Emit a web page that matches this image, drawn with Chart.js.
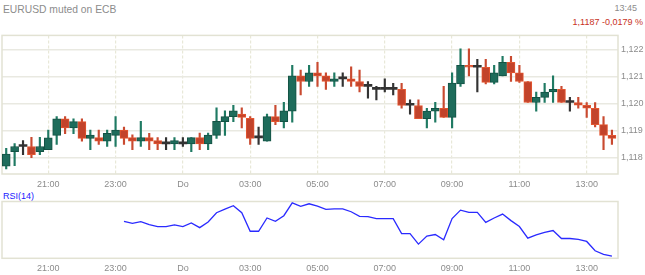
<!DOCTYPE html>
<html>
<head>
<meta charset="utf-8">
<script src="https://cdn.jsdelivr.net/npm/chart.js@4.4.1/dist/chart.umd.min.js"></script>
<style>
  html, body { margin:0; padding:0; background:#fff; }
  #wrap { position:relative; width:645px; height:275px; overflow:hidden; font-family:"Liberation Sans", Arial, sans-serif; }
  .t { position:absolute; white-space:nowrap; line-height:12px; }
  canvas { position:absolute; left:0; }
</style>
</head>
<body>
<div id="wrap">
  <div class="t" style="left:3px; top:4px; font-size:10.3px; color:#8c8c8c;">EURUSD muted on ECB</div>
  <div class="t" style="right:8px; top:2px; font-size:9px; color:#8c8c8c;">13:45</div>
  <div class="t" style="right:2px; top:16px; font-size:9px; color:#c8321e;">1,1187 -0,0179 %</div>
  <div class="t" style="left:3px; top:189.5px; font-size:9px; color:#1a1aff;">RSI(14)</div>
  <canvas id="main" width="645" height="165" style="top:27px;"></canvas>
  <canvas id="rsi" width="645" height="76" style="top:199px;"></canvas>
</div>
<script>
// ---- data (15-minute candles, index 0 .. 72) ----
const opens = [1.11767,1.11821,1.11840,1.11840,1.11821,1.11828,1.11881,1.11943,1.11909,1.11932,
1.11870,1.11873,1.11860,1.11881,1.11901,1.11873,1.11860,1.11873,1.11862,1.11850,
1.11850,1.11850,1.11850,1.11873,1.11850,1.11881,1.11932,1.11951,1.11960,1.11944,
1.11872,1.11860,1.11951,1.11932,1.11971,1.12102,1.12081,1.12113,1.12102,1.12081,
1.12091,1.12091,1.12081,1.12063,1.12052,1.12052,1.12052,1.12052,1.11993,1.11992,
1.11943,1.11971,1.11982,1.11948,1.12072,1.12141,1.12134,1.12134,1.12078,1.12102,
1.12152,1.12113,1.12081,1.12003,1.12022,1.12042,1.12052,1.12003,1.12003,1.11993,
1.11982,1.11921,1.11881];
const highs = [1.11833,1.11851,1.11862,1.11874,1.11874,1.11901,1.11951,1.11951,1.11943,1.11943,
1.11901,1.11901,1.11901,1.11951,1.11912,1.11883,1.11933,1.11889,1.11873,1.11873,
1.11873,1.11873,1.11873,1.11890,1.11890,1.11983,1.11972,1.11993,1.11983,1.11951,
1.11912,1.11960,1.11993,1.12004,1.12141,1.12123,1.12141,1.12152,1.12113,1.12113,
1.12113,1.12135,1.12123,1.12081,1.12063,1.12091,1.12074,1.12074,1.12013,1.12013,
1.11982,1.12004,1.12063,1.12113,1.12202,1.12202,1.12163,1.12163,1.12141,1.12174,
1.12174,1.12141,1.12081,1.12042,1.12074,1.12102,1.12063,1.12022,1.12022,1.12003,
1.12003,1.11951,1.11901];
const lows = [1.11757,1.11769,1.11810,1.11799,1.11810,1.11828,1.11848,1.11888,1.11888,1.11860,
1.11828,1.11848,1.11840,1.11840,1.11848,1.11828,1.11840,1.11828,1.11828,1.11828,
1.11828,1.11840,1.11821,1.11828,1.11828,1.11870,1.11881,1.11932,1.11909,1.11848,
1.11848,1.11860,1.11921,1.11909,1.11930,1.12031,1.12063,1.12063,1.12052,1.12063,
1.12063,1.12063,1.12042,1.12019,1.12013,1.12042,1.12031,1.11982,1.11960,1.11943,
1.11909,1.11930,1.11948,1.11909,1.12063,1.12102,1.12042,1.12072,1.12072,1.12102,
1.12081,1.12078,1.12003,1.11971,1.12003,1.12003,1.12003,1.11971,1.11982,1.11948,
1.11913,1.11828,1.11848];
const closes = [1.11812,1.11840,1.11840,1.11810,1.11840,1.11872,1.11943,1.11909,1.11932,1.11870,
1.11882,1.11860,1.11889,1.11901,1.11870,1.11860,1.11873,1.11860,1.11850,1.11850,
1.11862,1.11850,1.11873,1.11850,1.11882,1.11933,1.11951,1.11972,1.11948,1.11870,
1.11872,1.11951,1.11932,1.11972,1.12102,1.12081,1.12113,1.12102,1.12081,1.12091,
1.12091,1.12081,1.12063,1.12063,1.12052,1.12052,1.12052,1.11992,1.11993,1.11943,
1.11971,1.11982,1.11948,1.12075,1.12141,1.12134,1.12134,1.12078,1.12113,1.12152,
1.12113,1.12081,1.12003,1.12022,1.12042,1.12052,1.12003,1.12003,1.11993,1.11982,
1.11921,1.11881,1.11870];
// RSI(14) starts at candle 14
const rsiStart = 14;
const rsiValues = [59.1,57.0,58.7,55.6,53.5,53.5,55.2,53.5,57.3,52.4,
58.4,68.1,72.0,75.5,68.1,48.6,48.6,62.6,59.1,65.0,
78.6,74.8,77.6,75.1,71.6,72.3,72.3,69.2,64.3,64.0,
61.9,61.9,61.9,46.1,46.1,35.0,43.4,45.1,39.5,61.9,
70.9,68.5,68.5,58.0,62.6,66.7,59.8,53.5,41.3,44.8,
47.5,49.3,40.9,40.9,39.9,37.8,28.0,24.2,22.4];
// x-axis ticks (candle index -> label)
const tickIdx = [5,13,21,29,37,45,53,61,69];
const tickLabels = ["21:00","23:00","Do","03:00","05:00","07:00","09:00","11:00","13:00"];
const yTicks = [1.118,1.119,1.120,1.121,1.122];

// ---- styles ----
const GREEN = '#1e6c5b', GREEN_B = '#145244', GREEN_W = '#1f7a63';
const RED = '#c2432b', RED_B = '#e4552f', RED_W = '#c94a30';
const DOJI = '#333333';
const labelFont = { family: '"Liberation Sans", Arial, sans-serif', size: 9 };
const labelColor = '#8c8c8c';
const frameColor = '#e2e2d3';

const kind = opens.map((o,i) => closes[i] > o ? 1 : (closes[i] < o ? -1 : 0));
const bodyPts = opens.map((o,i) => ({ x: i, y: [o, closes[i]] }));
const wickPts = opens.map((o,i) => ({ x: i, y: [lows[i], highs[i]] }));

const framePlugin = {
  id: 'frame',
  beforeDatasetsDraw(chart) {
    const a = chart.chartArea, c = chart.ctx;
    c.save();
    c.strokeStyle = frameColor;
    c.lineWidth = 1.5;
    c.strokeRect(a.left, a.top, a.right - a.left, a.bottom - a.top);
    c.restore();
  }
};

function xScale(showGrid, h) {
  return {
    type: 'linear', min: -0.5, max: 72.72, offset: false,
    afterBuildTicks: s => { s.ticks = tickIdx.map(v => ({ value: v })); },
    afterFit: s => { s.height = h; },
    ticks: {
      autoSkip: false, maxRotation: 0, padding: 5, font: labelFont, color: labelColor,
      callback: v => { const k = tickIdx.indexOf(v); return k >= 0 ? tickLabels[k] : ''; }
    },
    grid: { display: showGrid, offset: false, drawTicks: false, color: '#e8e8d8', lineWidth: 1.2 },
    border: { display: false, dash: [3, 2] }
  };
}

new Chart(document.getElementById('main'), {
  type: 'bar',
  data: {
    datasets: [
      {
        data: bodyPts, grouped: false, order: 0,
        barThickness: 8, minBarLength: 2, borderSkipped: false,
        backgroundColor: kind.map(k => k > 0 ? GREEN : k < 0 ? RED : DOJI),
        borderColor: kind.map(k => k > 0 ? GREEN_B : k < 0 ? RED_B : DOJI),
        borderWidth: kind.map(k => k === 0 ? 0 : 1)
      },
      {
        data: wickPts, grouped: false, order: 1,
        barThickness: 1.5, borderWidth: 0,
        backgroundColor: kind.map(k => k > 0 ? GREEN_W : k < 0 ? RED_W : DOJI)
      }
    ]
  },
  options: {
    responsive: false, animation: false, devicePixelRatio: 1,
    layout: { padding: { top: 2, left: 2, right: 0, bottom: 0 } },
    plugins: { legend: { display: false }, tooltip: { enabled: false } },
    scales: {
      x: xScale(true, 18),
      y: {
        position: 'right', min: 1.11738, max: 1.12252,
        afterBuildTicks: s => { s.ticks = yTicks.map(v => ({ value: v })); },
        afterFit: s => { s.width = 27; },
        ticks: { padding: 3, font: labelFont, color: labelColor, callback: v => v.toFixed(3).replace('.', ',') },
        grid: { drawTicks: false, color: '#e9e9e1', lineWidth: 1.5 },
        border: { display: false }
      }
    }
  },
  plugins: [framePlugin]
});

const rsiPts = rsiValues.map((v, k) => ({ x: rsiStart + k, y: v }));
new Chart(document.getElementById('rsi'), {
  type: 'line',
  data: { datasets: [{ data: rsiPts, borderColor: '#2a2aff', borderWidth: 1.3, pointRadius: 0, tension: 0, fill: false }] },
  options: {
    responsive: false, animation: false, devicePixelRatio: 1,
    layout: { padding: { top: 2.5, left: 2, right: 27, bottom: 0 } },
    plugins: { legend: { display: false }, tooltip: { enabled: false } },
    scales: {
      x: xScale(false, 16.7),
      y: { display: false, min: 20, max: 80 }
    }
  },
  plugins: [framePlugin]
});
</script>
</body>
</html>
